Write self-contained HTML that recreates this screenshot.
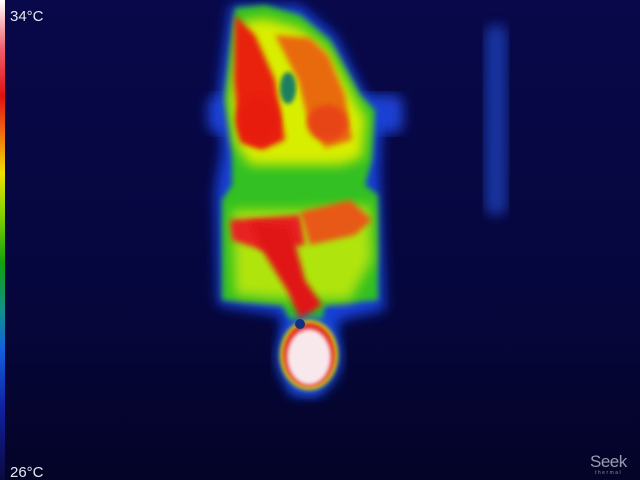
<!DOCTYPE html>
<html><head><meta charset="utf-8"><style>
html,body{margin:0;padding:0;background:#05052e;}
svg{display:block}
text{font-family:"Liberation Sans",sans-serif;}
</style></head><body>
<svg width="640" height="480" viewBox="0 0 640 480">
<defs>
<linearGradient id="bg" x1="0" y1="0" x2="0" y2="1">
<stop offset="0" stop-color="#08084a"/><stop offset="0.6" stop-color="#06063e"/><stop offset="1" stop-color="#040428"/></linearGradient>
<linearGradient id="scale" x1="0" y1="0" x2="0" y2="1">
<stop offset="0" stop-color="#ffffff"/><stop offset="0.1" stop-color="#f06070"/><stop offset="0.2" stop-color="#e01010"/><stop offset="0.28" stop-color="#f07010"/><stop offset="0.36" stop-color="#f0e000"/><stop offset="0.45" stop-color="#80d000"/><stop offset="0.55" stop-color="#10a010"/><stop offset="0.65" stop-color="#109090"/><stop offset="0.73" stop-color="#1060e0"/><stop offset="0.85" stop-color="#1020a0"/><stop offset="1" stop-color="#0a0a40"/></linearGradient>
<filter id="b6"><feGaussianBlur stdDeviation="6"/></filter>
<filter id="b3"><feGaussianBlur stdDeviation="3"/></filter>
<filter id="b2"><feGaussianBlur stdDeviation="2"/></filter>
</defs>
<rect width="640" height="480" fill="url(#bg)"/>
<rect x="485" y="25" width="22" height="190" rx="10" fill="#1a40b8" opacity="0.8" filter="url(#b6)"/>
<g>
<rect x="208" y="95" width="195" height="38" rx="10" fill="#1a40d0" filter="url(#b6)"/>
<path d="M230,5 L300,5 L335,35 L365,95 L382,115 L380,170 L385,310 L340,320 L320,395 L290,395 L280,315 L218,305 L215,190 L222,150 L218,95 Z" fill="#1840d8" filter="url(#b6)"/>
<path d="M235,8 L265,5 L300,15 L330,40 L360,95 L375,110 L372,160 L365,185 L378,195 L378,300 L325,305 L322,320 L290,320 L282,305 L222,300 L222,200 L232,185 L232,150 L225,100 Z" fill="#30c020" filter="url(#b3)"/>
<path d="M240,22 L265,18 L300,28 L328,50 L355,100 L366,118 L362,158 L340,165 L250,165 L236,145 L230,100 Z" fill="#d8ee00" filter="url(#b6)"/>
<path d="M232,210 L300,210 L370,205 L372,260 L350,300 L300,300 L235,295 Z" fill="#b0e410" filter="url(#b6)"/>
<path d="M235,15 L255,35 L275,80 L285,140 L262,150 L240,142 L234,80 Z" fill="#e82010" filter="url(#b3)"/>
<ellipse cx="258" cy="120" rx="22" ry="25" fill="#e81c10" filter="url(#b3)"/>
<path d="M275,35 L310,38 L328,55 L345,95 L352,140 L325,148 L308,120 L298,80 Z" fill="#e86a10" filter="url(#b3)"/>
<ellipse cx="327" cy="123" rx="20" ry="18" fill="#e84414" filter="url(#b3)"/>
<ellipse cx="288" cy="88" rx="8" ry="16" fill="#1a8060" filter="url(#b2)"/>
<path d="M230,220 L300,215 L305,245 L262,250 L232,240 Z" fill="#e82020" filter="url(#b3)"/>
<path d="M250,222 L290,225 L305,280 L322,305 L300,320 L288,292 L262,250 Z" fill="#e01818" filter="url(#b3)"/>
<path d="M300,212 L350,200 L372,220 L355,235 L310,245 Z" fill="#e85818" filter="url(#b3)"/>
<ellipse cx="309" cy="356" rx="32" ry="38" fill="#1a50e0" filter="url(#b6)"/>
<ellipse cx="309" cy="355" rx="29" ry="35" fill="#d8e000" filter="url(#b2)"/>
<ellipse cx="309" cy="355" rx="26" ry="32" fill="#e02020" filter="url(#b2)"/>
<ellipse cx="309" cy="357" rx="22" ry="28" fill="#f8e8ec" filter="url(#b2)"/>
<circle cx="300" cy="324" r="5" fill="#103080"/>
</g>
<rect x="0" y="0" width="5" height="480" fill="url(#scale)"/>
<text x="10" y="21" fill="#e8e8f0" font-size="15">34°C</text>
<text x="10" y="477" fill="#e8e8f0" font-size="15">26°C</text>
<g>
<text x="590" y="467" fill="#9a9ab0" font-size="17" letter-spacing="-0.5">Seek</text>
<text x="595" y="474" fill="#8888a0" font-size="5" letter-spacing="1.5">thermal</text>
</g>
</svg>
</body></html>
